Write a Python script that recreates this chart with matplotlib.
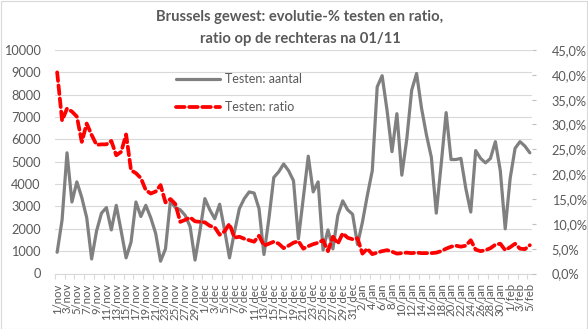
import matplotlib
matplotlib.use("Agg")
import matplotlib.pyplot as plt
from matplotlib.ticker import FuncFormatter, FixedLocator, NullFormatter
from matplotlib.patches import Rectangle

plt.rcParams['font.family'] = ['Lato', 'DejaVu Sans']

# ---- data ----
months = [("nov", 30), ("dec", 31), ("jan", 31), ("feb", 5)]
categories = [f"{d}/{m}" for m, n in months for d in range(1, n + 1)]

testen_aantal = [950, 2400, 5400, 3200, 4100, 3400, 2500, 650, 1900, 2700,
                 2950, 1950, 3050, 1900, 700, 1400, 3200, 2550, 3050, 2500,
                 1800, 550, 1100, 3250, 2950, 2850, 2600, 2100, 600, 1900,
                 3350, 2850, 2450, 3100, 1950, 700, 1850, 2900, 3350, 3650,
                 3600, 2900, 850, 2450, 4300, 4550, 4900, 4600, 4150, 1550,
                 3400, 5250, 3650, 4100, 1050, 1950, 1100, 2600, 3250, 2850,
                 2650, 1300, 2300, 3500, 4600, 8350, 8850, 7300, 5450, 7150,
                 4400, 6000, 8200, 8950, 7400, 6200, 5200, 2700, 4900, 7200,
                 5100, 5100, 5150, 3800, 2750, 5500, 5150, 4950, 5150, 5900,
                 4600, 2000, 4250, 5600, 5900, 5700, 5400]

testen_ratio_pct = [40.5, 30.8, 33.2, 32.6, 31.6, 26.5, 30.2, 27.9, 25.9, 26.0,
                    26.0, 26.7, 23.8, 24.5, 28.0, 20.8, 20.2, 19.2, 16.8, 16.1,
                    16.5, 17.8, 14.3, 15.0, 14.0, 10.4, 10.8, 11.3, 10.5, 10.4,
                    10.3, 9.6, 9.3, 7.8, 8.5, 10.0, 7.2, 7.4, 7.0, 6.7,
                    6.4, 7.6, 5.6, 6.0, 6.4, 6.0, 5.1, 5.6, 6.2, 6.5,
                    5.0, 5.5, 5.9, 6.2, 6.7, 4.5, 7.4, 6.0, 8.1, 7.2,
                    6.9, 7.1, 4.0, 5.0, 3.9, 4.2, 4.5, 4.7, 4.4, 4.0,
                    4.1, 4.2, 4.1, 4.2, 4.1, 4.1, 4.1, 4.2, 4.5, 5.0,
                    5.4, 5.6, 5.4, 5.6, 6.7, 4.8, 4.5, 4.7, 5.1, 5.8,
                    6.0, 4.7, 5.3, 6.0, 5.0, 4.9, 5.7]

title_lines = ["Brussels gewest: evolutie-% testen en ratio,",
               "ratio op de rechteras na 01/11"]
label_aantal = "Testen: aantal"
label_ratio = "Testen: ratio"

# ---- figure ----
W, H = 588, 329
fig = plt.figure(figsize=(W / 100, H / 100), dpi=100)
fig.patch.set_facecolor("white")
fig.patches.append(Rectangle((0.5 / W, 0.5 / H), 1 - 1.5 / W, 1 - 1.5 / H,
                             transform=fig.transFigure, fill=False,
                             edgecolor="#D9D9D9", linewidth=0.8))

left, right, top, bottom = 54.7, 532.3, 50.0, 273.5
ax = fig.add_axes([left / W, 1 - bottom / H, (right - left) / W, (bottom - top) / H])
ax2 = ax.twinx()

txt = "#595959"
grid = "#D9D9D9"
x = list(range(len(categories)))

l1, = ax.plot(x, testen_aantal, color="#808080", linewidth=2.3,
              solid_joinstyle="round", solid_capstyle="round", label=label_aantal, zorder=3)
ratio = [v / 100 for v in testen_ratio_pct]
l2, = ax2.plot(x, ratio, color="#FF0000", linewidth=2.7, dashes=(2.3, 1.2),
               dash_capstyle="round", dash_joinstyle="round", label=label_ratio, zorder=4)

ax.set_xlim(-0.5, len(categories) - 0.5)
ax.set_ylim(0, 10000)
ax.set_yticks(range(0, 10001, 1000))
ax2.set_ylim(0, 0.45)
ax2.set_yticks([i * 0.05 for i in range(10)])
ax2.yaxis.set_major_formatter(FuncFormatter(lambda v, p: f"{v*100:.1f}%".replace(".", ",")))

ax.grid(axis="y", color=grid, linewidth=0.8)
ax.set_axisbelow(True)
for s in ["top", "left", "right"]:
    ax.spines[s].set_visible(False)
    ax2.spines[s].set_visible(False)
ax2.spines["bottom"].set_visible(False)
ax.spines["bottom"].set_color(grid)
ax.spines["bottom"].set_linewidth(0.8)

# x ticks: boundary marks every 2 categories, labels at even categories
ax.xaxis.set_major_locator(FixedLocator([i - 0.5 for i in range(0, len(categories) + 1, 2)]))
ax.xaxis.set_major_formatter(NullFormatter())
ax.xaxis.set_minor_locator(FixedLocator(x[::2]))
ax.set_xticklabels(categories[::2], minor=True, rotation=90, fontsize=8.2, color=txt)
ax.tick_params(axis="x", which="major", length=3.5, color=grid, width=0.8, direction="out")
ax.tick_params(axis="x", which="minor", length=0, pad=7)

ax.tick_params(axis="y", length=0, pad=10, labelsize=9.2, labelcolor=txt)
ax2.tick_params(axis="y", length=3, color="#BFBFBF", width=0.8, pad=11,
                labelsize=9.2, labelcolor=txt)

fig.text(0.51, 1 - 17 / H, title_lines[0], ha="center", va="center",
         fontsize=10.6, fontweight="bold", color=txt)
fig.text(0.51, 1 - 38.5 / H, title_lines[1], ha="center", va="center",
         fontsize=10.6, fontweight="bold", color=txt)

leg = ax2.legend(handles=[l1, l2], loc="upper left",
                 bbox_to_anchor=(171 / W, 1 - 68 / H), bbox_transform=fig.transFigure,
                 frameon=False, fontsize=9.0, handlelength=3.5, handletextpad=0.4,
                 labelspacing=1.3, borderaxespad=0)
for t in leg.get_texts():
    t.set_color(txt)

fig.savefig("out.png", dpi=100)
